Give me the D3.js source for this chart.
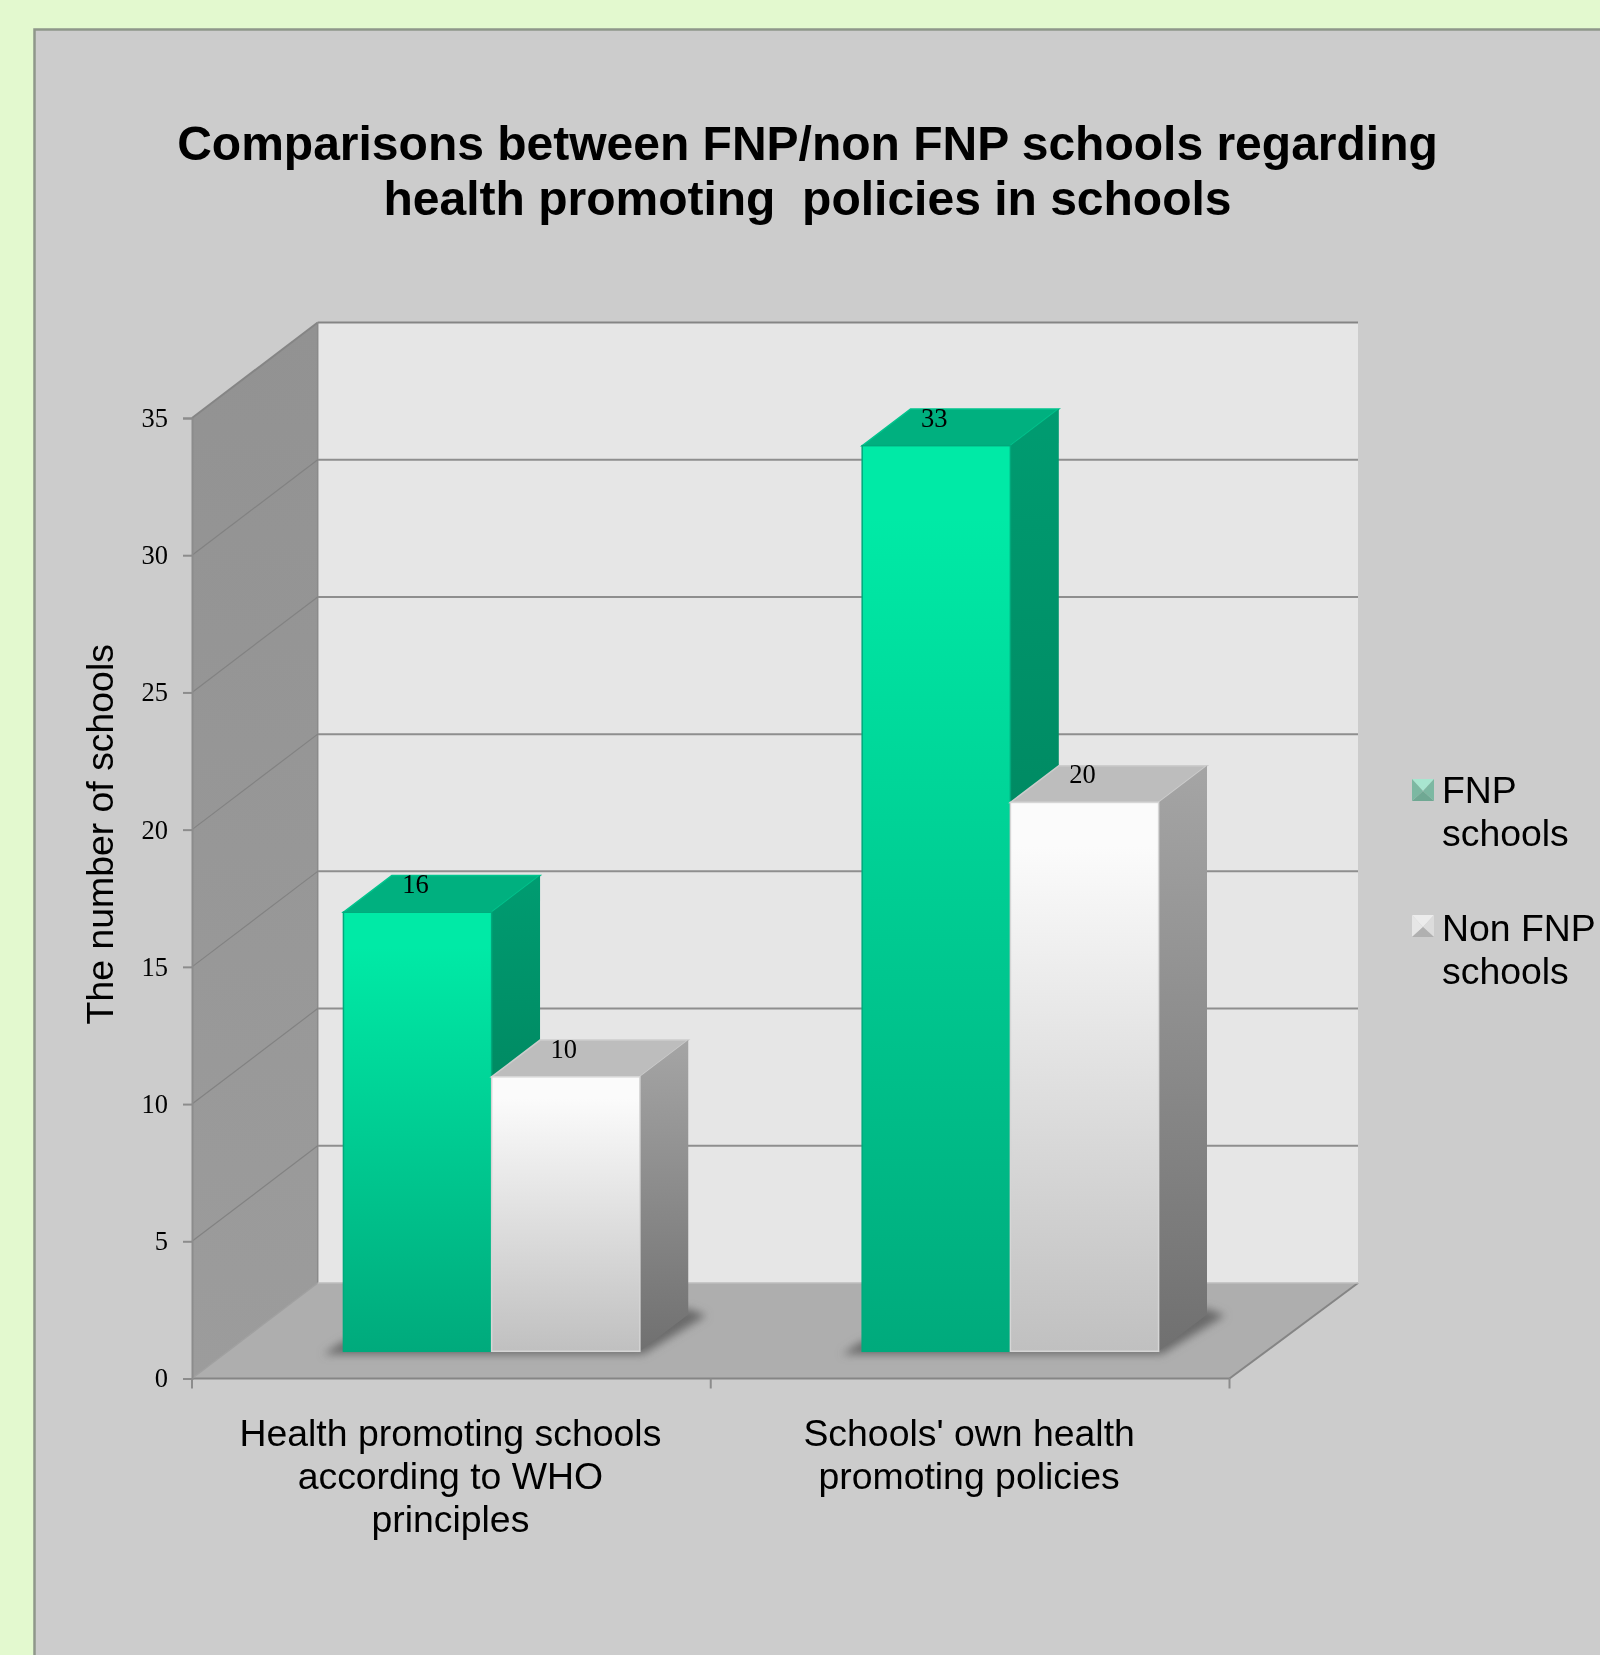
<!DOCTYPE html>
<html>
<head>
<meta charset="utf-8">
<style>
  html, body { margin: 0; padding: 0; background: #e3f9cf; }
  svg { display: block; filter: blur(0.5px); }
  text { font-family: "Liberation Sans", Arial, sans-serif; fill: #000; white-space: pre; }
  .tick text, .data-label { font-family: "Liberation Serif", "Times New Roman", serif; }
</style>
</head>
<body>
<svg id="chart"></svg>
<script src="https://cdn.jsdelivr.net/npm/d3@7"></script>
<script>
/* global d3 */

// Values
const categories = ['who', 'own']
const categoryLines = [
  ['Health promoting schools', 'according to WHO', 'principles'],
  ["Schools' own health", 'promoting policies']
]
const seriesNames = ['FNP', 'Non FNP']
const legendLines = [['FNP', 'schools'], ['Non FNP', 'schools']]
const fnpValues = [16, 33]
const nonFnpValues = [10, 20]
const yTicks = [0, 5, 10, 15, 20, 25, 30, 35]
const titleLines = [
  'Comparisons between FNP/non FNP schools regarding',
  'health promoting  policies in schools'
]
const yTitle = 'The number of schools'

const svgWidth = 1600
const svgHeight = 1655

// Front plane of the fake 3D box, and how far the back wall is pushed away
const plot = { left: 192, right: 1229.5, top: 418, bottom: 1378.5 }
const wallDx = 125.7
const wallDy = 95.5
const backRight = 1358
const barDepthStart = 0.285
const barDepthEnd = 0.67

const svg = d3.select('#chart').attr('width', svgWidth).attr('height', svgHeight)
const defs = svg.append('defs')

function addGradient (id, top, bottom, hold) {
  const g = defs.append('linearGradient').attr('id', id)
    .attr('x1', 0).attr('y1', 0).attr('x2', 0).attr('y2', 1)
  g.append('stop').attr('offset', `${hold}%`).attr('stop-color', top)
  g.append('stop').attr('offset', '100%').attr('stop-color', bottom)
}

const barStyles = [
  { front: 'frontGreen', side: 'sideGreen', top: '#00b07f', edge: '#00a97c', rim: '#00c48d' },
  { front: 'frontWhite', side: 'sideWhite', top: '#bdbdbd', edge: '#d6d6d6', rim: '#cdcdcd' }
]
addGradient('frontGreen', '#00eaa6', '#00aa7c', 8)
addGradient('sideGreen', '#009c71', '#007350', 0)
addGradient('frontWhite', '#fbfbfb', '#c0c0c0', 8)
addGradient('sideWhite', '#a5a5a5', '#707070', 0)
addGradient('wallGrad', '#929292', '#9c9c9c', 0)

defs.append('filter').attr('id', 'soft')
  .attr('x', '-10%').attr('y', '-30%').attr('width', '120%').attr('height', '160%')
  .append('feGaussianBlur').attr('stdDeviation', 4)

// Panel: its right and bottom edges run off the page
svg.append('rect')
  .attr('x', 34.5).attr('y', 29.5)
  .attr('width', svgWidth + 20).attr('height', svgHeight + 20)
  .attr('fill', '#cccccc').attr('stroke', '#8f978a').attr('stroke-width', 2.5)

// Scales
const y = d3.scaleLinear().domain([0, 35]).range([plot.bottom, plot.top])
const x0 = d3.scaleBand().domain(categories).range([plot.left, plot.right])
const x1 = d3.scaleBand().domain(seriesNames).range([0, x0.bandwidth()])
  .paddingInner(0).paddingOuter(0.75).align(0.52)

const path = pts => 'M' + pts.map(p => p.join(',')).join('L') + 'Z'
const shift = (px, py, depth) => [px + depth * wallDx, py - depth * wallDy]

const backLeft = shift(plot.left, 0, 1)[0]
const backTop = plot.top - wallDy
const backBottom = plot.bottom - wallDy

// Walls and floor
const chart = svg.append('g')
chart.append('path')
  .attr('d', path([[plot.left, plot.top], [backLeft, backTop],
    [backLeft, backBottom], [plot.left, plot.bottom]]))
  .attr('fill', 'url(#wallGrad)')
chart.append('path')
  .attr('d', path([[backLeft, backTop], [backRight, backTop],
    [backRight, backBottom], [backLeft, backBottom]]))
  .attr('fill', '#e6e6e6')
chart.append('path')
  .attr('d', path([[plot.left, plot.bottom], [plot.right, plot.bottom],
    [backRight, backBottom], [backLeft, backBottom]]))
  .attr('fill', '#aeaeae')

// Outline of the box, open along the right edge of the back wall
const outline = [
  [[plot.left, plot.top], [backLeft, backTop], '#858585', 2],
  [[backLeft, backTop], [backRight, backTop], '#858585', 2],
  [[plot.left, plot.bottom], [plot.right, plot.bottom], '#858585', 2],
  [[plot.right, plot.bottom], [backRight, backBottom], '#858585', 2],
  [[backLeft, backBottom], [backLeft, backTop], '#8a8a8a', 1.5],
  [[plot.left, plot.bottom], [backLeft, backBottom], '#a0a0a0', 1.5],
  [[backLeft, backBottom], [backRight, backBottom], '#bdbdbd', 1.5]
]
chart.selectAll('.outline').data(outline).enter().append('line')
  .attr('class', 'outline')
  .attr('x1', d => d[0][0]).attr('y1', d => d[0][1])
  .attr('x2', d => d[1][0]).attr('y2', d => d[1][1])
  .attr('stroke', d => d[2]).attr('stroke-width', d => d[3])

// Gridlines on both walls
const inner = yTicks.filter(v => v > 0 && v < 35)
chart.selectAll('.grid-back').data(inner).enter().append('line')
  .attr('class', 'grid-back')
  .attr('x1', backLeft)
  .attr('x2', backRight)
  .attr('y1', d => y(d) - wallDy)
  .attr('y2', d => y(d) - wallDy)
  .attr('stroke', '#8e8e8e').attr('stroke-width', 2)
chart.selectAll('.grid-side').data(inner).enter().append('line')
  .attr('class', 'grid-side')
  .attr('x1', plot.left)
  .attr('x2', backLeft)
  .attr('y1', d => y(d))
  .attr('y2', d => y(d) - wallDy)
  .attr('stroke', '#828282').attr('stroke-width', 1.2)

// Y axis, on the front edge of the side wall
const yAxisGroup = chart.append('g')
  .attr('transform', `translate(${plot.left},0)`)
  .call(d3.axisLeft(y).tickValues(yTicks).tickSize(9).tickPadding(15))
yAxisGroup.select('.domain').attr('stroke', '#8c8c8c').attr('stroke-width', 2)
yAxisGroup.selectAll('.tick line').attr('stroke', '#8c8c8c').attr('stroke-width', 2)
yAxisGroup.selectAll('.tick text').attr('font-size', 26.5).attr('fill', '#000')

// X axis ticks sit between the categories
const xTickValues = categories.map(c => x0(c)).concat(plot.right)
chart.selectAll('.x-tick').data(xTickValues).enter().append('line')
  .attr('class', 'x-tick')
  .attr('x1', d => d).attr('x2', d => d)
  .attr('y1', plot.bottom).attr('y2', plot.bottom + 10)
  .attr('stroke', '#8c8c8c').attr('stroke-width', 2)

// Bars: one record per bar, green first so the white front covers its side
const bars = []
categories.forEach((c, i) => {
  bars.push({ category: c, series: 0, value: fnpValues[i] })
  bars.push({ category: c, series: 1, value: nonFnpValues[i] })
})

function barBox (d) {
  const left = x0(d.category) + x1(seriesNames[d.series])
  const [xa, yBase] = shift(left, y(0), barDepthStart)
  const w = x1.bandwidth()
  const yTop = y(d.value) - barDepthStart * wallDy
  const dx = (barDepthEnd - barDepthStart) * wallDx
  const dy = (barDepthEnd - barDepthStart) * wallDy
  return { xa, xb: xa + w, yBase, yTop, dx, dy }
}

// Shadow on the floor, one per cluster
const shadowGroup = chart.append('g').attr('filter', 'url(#soft)')
categories.forEach(c => {
  const a = barBox({ category: c, series: 0, value: 0 })
  const b = barBox({ category: c, series: 1, value: 0 })
  shadowGroup.append('path')
    .attr('d', path([[a.xa - 20, a.yBase + 3], [b.xb + 3, b.yBase + 3],
      [b.xb + b.dx + 18, b.yBase - b.dy + 1], [b.xb + b.dx, b.yBase - b.dy - 6],
      [a.xa, a.yBase - 10]]))
    .attr('fill', '#6a6a6a')
})

const barGroups = chart.selectAll('.bar').data(bars).enter().append('g').attr('class', 'bar')

barGroups.append('path') // top face
  .attr('d', d => {
    const b = barBox(d)
    return path([[b.xa, b.yTop], [b.xb, b.yTop], [b.xb + b.dx, b.yTop - b.dy], [b.xa + b.dx, b.yTop - b.dy]])
  })
  .attr('fill', d => barStyles[d.series].top)
  .attr('stroke', d => barStyles[d.series].rim).attr('stroke-width', 1.5)

barGroups.append('path') // side face
  .attr('d', d => {
    const b = barBox(d)
    return path([[b.xb, b.yTop], [b.xb + b.dx, b.yTop - b.dy], [b.xb + b.dx, b.yBase - b.dy], [b.xb, b.yBase]])
  })
  .attr('fill', d => `url(#${barStyles[d.series].side})`)

barGroups.append('rect') // front face
  .attr('x', d => barBox(d).xa)
  .attr('y', d => barBox(d).yTop)
  .attr('width', x1.bandwidth())
  .attr('height', d => barBox(d).yBase - barBox(d).yTop)
  .attr('fill', d => `url(#${barStyles[d.series].front})`)
  .attr('stroke', d => barStyles[d.series].edge).attr('stroke-width', 1.5)

// Data labels sit on the top face
chart.selectAll('.data-label').data(bars).enter().append('text')
  .attr('class', 'data-label')
  .attr('x', d => barBox(d).xa + x1.bandwidth() / 2 - 2)
  .attr('y', d => barBox(d).yTop - 19)
  .attr('text-anchor', 'middle')
  .attr('font-size', 26.5)
  .text(d => d.value)

// Category labels
const catLabels = chart.selectAll('.cat-label').data(categories).enter().append('text')
  .attr('class', 'cat-label')
  .attr('text-anchor', 'middle')
  .attr('font-size', 37.4)
catLabels.each(function (c, i) {
  d3.select(this).selectAll('tspan').data(categoryLines[i]).enter().append('tspan')
    .attr('x', x0(c) + x0.bandwidth() / 2 - 1)
    .attr('y', (d, j) => 1446 + j * 43)
    .text(d => d)
})

// Titles
svg.append('g').selectAll('text').data(titleLines).enter().append('text')
  .attr('x', 807.5)
  .attr('y', (d, i) => 160 + i * 55)
  .attr('text-anchor', 'middle')
  .attr('font-size', 48)
  .attr('font-weight', 'bold')
  .text(d => d)

svg.append('text')
  .attr('transform', `translate(113, ${(plot.top + plot.bottom) / 2 - 64}) rotate(-90)`)
  .attr('text-anchor', 'middle')
  .attr('font-size', 37.4)
  .text(yTitle)

// Legend with bevelled swatches
const legendStyles = [
  { top: '#a8e6d0', left: '#7cb8a2', right: '#7cb8a2', bottom: '#6fa893' },
  { top: '#ececec', left: '#e6e6e6', right: '#dcdcdc', bottom: '#b0b0b0' }
]
const legendTop = [779, 915]
const legendTextY = [23.5, 25.5]
const swatch = 22
const legendX = 1412
const legend = svg.append('g').selectAll('g').data(seriesNames).enter().append('g')
  .attr('transform', (d, i) => `translate(${legendX},${legendTop[i]})`)

legend.each(function (name, i) {
  const g = d3.select(this)
  const s = legendStyles[i]
  const c = [swatch / 2, swatch * 0.55]
  g.append('path').attr('d', path([[0, 0], [swatch, 0], c])).attr('fill', s.top)
  g.append('path').attr('d', path([[0, 0], c, [0, swatch]])).attr('fill', s.left)
  g.append('path').attr('d', path([[swatch, 0], c, [swatch, swatch]])).attr('fill', s.right)
  g.append('path').attr('d', path([[0, swatch], c, [swatch, swatch]])).attr('fill', s.bottom)
  g.selectAll('text').data(legendLines[i]).enter().append('text')
    .attr('x', 30)
    .attr('y', (d, j) => legendTextY[i] + j * 43.5)
    .attr('font-size', 37.4)
    .text(d => d)
})
</script>
</body>
</html>
